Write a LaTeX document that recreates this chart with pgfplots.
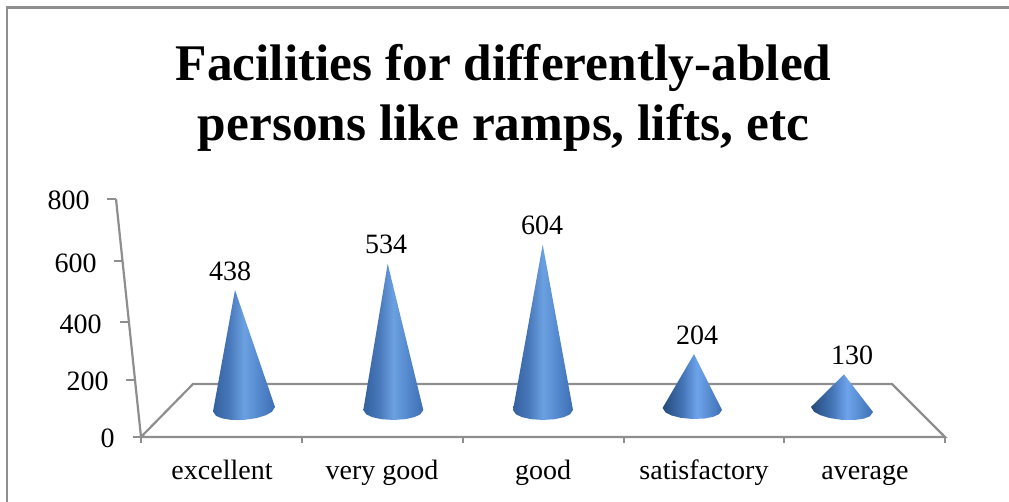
\documentclass[border=0pt]{standalone}
\usepackage{fontspec}
\setmainfont{Liberation Serif}
\usepackage{pgfplots}
\pgfplotsset{compat=1.18}
% 1 px of the reference = 0.5pt here
\definecolor{gridgray}{HTML}{8E8E8E}
\pgfdeclarehorizontalshading{conea}{100bp}{
  rgb(0bp)=(0.20,0.38,0.62);
  rgb(25bp)=(0.20,0.38,0.62);
  rgb(38bp)=(0.28,0.47,0.73);
  rgb(50bp)=(0.42,0.63,0.88);
  rgb(59bp)=(0.35,0.56,0.83);
  rgb(75bp)=(0.24,0.43,0.70);
  rgb(100bp)=(0.24,0.43,0.70)}
\pgfdeclarehorizontalshading{coneb}{100bp}{
  rgb(0bp)=(0.14,0.29,0.48);
  rgb(25bp)=(0.14,0.29,0.48);
  rgb(42bp)=(0.27,0.46,0.72);
  rgb(54bp)=(0.43,0.64,0.92);
  rgb(62bp)=(0.36,0.57,0.84);
  rgb(75bp)=(0.24,0.43,0.70);
  rgb(100bp)=(0.24,0.43,0.70)}
\pgfplotsset{
  base/.style={
    scale only axis, width=504.5pt, height=251pt,
    axis lines=none, xmin=0, xmax=1009,
    clip=false
  },
  labels/.style={
    draw=none, no marks, forget plot,
    point meta=explicit symbolic,
    nodes near coords,
    nodes near coords align={#1},
    every node near coord/.append style={inner sep=0pt, font=\fontsize{14}{16}\selectfont}
  }
}
\begin{document}
\begin{tikzpicture}
\path[use as bounding box] (0,0) rectangle (504.5pt,251pt);
% frame, floor, axis lines: coordinates in reference pixels
\begin{axis}[base, ymin=0, ymax=502, y dir=reverse, unbounded coords=jump,
  title={Facilities for differently-abled\\persons like ramps, lifts, etc},
  title style={at={(rel axis cs:0.499,0.673)}, anchor=south, align=center, inner sep=0pt,
    font=\fontsize{25.7}{30}\selectfont\bfseries}]
\addplot[gridgray, line width=1.1pt, forget plot] coordinates {(7,502) (7,7.5) (1009,7.5)};
\addplot[gridgray, line width=1.1pt, forget plot] coordinates {
  (116,199) (141,437) (945,437) (892,384) (193,384) (141,437)};
\addplot[gridgray, line width=1.1pt, forget plot] coordinates {
  (107,199) (116,199) (0,nan)
  (114,261) (122,261) (0,nan)
  (120,322) (128,322) (0,nan)
  (126,380) (134,380) (0,nan)
  (133,437) (141,437) (0,nan)
  (141,437) (141,443) (0,nan)
  (302,437) (302,443) (0,nan)
  (463,437) (463,443) (0,nan)
  (624,437) (624,443) (0,nan)
  (784,437) (784,443) (0,nan)
  (945,437) (945,443)};
\addplot[labels={anchor=east}] table[meta=lab] {
x y lab
90 200 800
97 263 600
102 324 400
109 381 200
115 438 0
};
\addplot[labels={anchor=base}] table[meta=lab] {
x y lab
222 480 excellent
382 480 {very good}
543 480 good
704 480 satisfactory
865 480 average
};
\end{axis}
% cones: y is the value, 3.65 units per pixel, floor level of the cones at 0
\begin{axis}[base, ymin=-335.8, ymax=1496.5]
\addplot[draw=none, shading=conea, forget plot] coordinates {
  (235,438) (213,-5.5) (216.1,-21.7) (222.3,-30.8) (231.6,-36.3) (244,-36.25)
  (256.4,-29.7) (265.7,-19.3) (271.9,-6.8) (275,11)} -- cycle;
\addplot[draw=none, shading=conea, forget plot] coordinates {
  (387.7,534) (363.3,0) (366.3,-15.9) (372.3,-26.1) (381.3,-33.5) (393.3,-36.5)
  (405.3,-33.5) (414.3,-26.1) (420.3,-15.9) (423.3,0)} -- cycle;
\addplot[draw=none, shading=conea, forget plot] coordinates {
  (542.7,604) (513,0) (516,-15.9) (522,-26.1) (531,-33.5) (543,-36.5)
  (555,-33.5) (564,-26.1) (570,-15.9) (573,0)} -- cycle;
\addplot[draw=none, shading=coneb, forget plot] coordinates {
  (694,204) (662.6,7.3) (665.6,-9) (671.5,-19.9) (680.4,-28.4) (692.3,-32.85)
  (704.2,-31.3) (713.1,-25) (719,-15.5) (722,0)} -- cycle;
\addplot[draw=none, shading=coneb, forget plot] coordinates {
  (844,130) (811,11) (814.1,-6.5) (820.3,-18.8) (829.6,-29.3) (842,-36.15)
  (854.4,-36.6) (863.7,-31.7) (869.9,-23) (873,-7.3)} -- cycle;
\addplot[labels={anchor=center, yshift=9.5pt}] table[meta=lab] {
x y lab
230 438 438
386 534 534
542 604 604
697 204 204
852 130 130
};
\end{axis}
\end{tikzpicture}
\end{document}
